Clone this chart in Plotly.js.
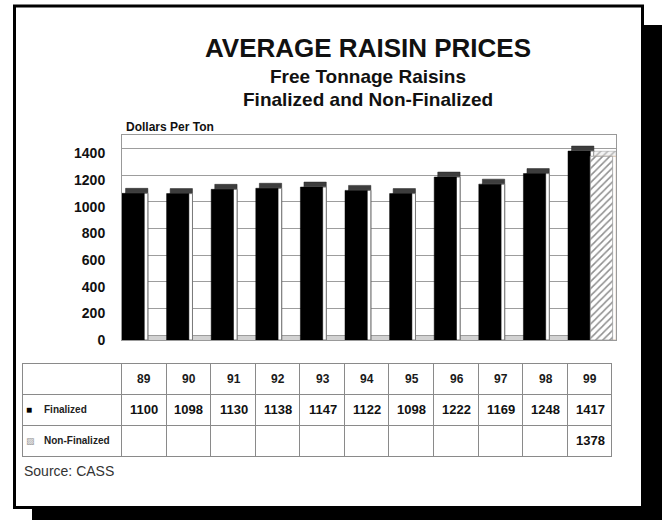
<!DOCTYPE html>
<html>
<head>
<meta charset="utf-8">
<script src="https://cdn.plot.ly/plotly-3.0.1.min.js"></script>
<style>html,body{margin:0;padding:0;background:#fff;}#chart{width:662px;height:520px;}</style>
</head>
<body>
<div id="chart"></div>
<script>
// ---- data ----
const years = ['89','90','91','92','93','94','95','96','97','98','99'];
const finalized = [1100, 1098, 1130, 1138, 1147, 1122, 1098, 1222, 1169, 1248, 1417];
const nonFinalized = [null, null, null, null, null, null, null, null, null, null, 1378];
const yTicks = [0, 200, 400, 600, 800, 1000, 1200, 1400];
const rowLabels = ['Finalized', 'Non-Finalized'];

// ---- style constants ----
const W = 662, H = 520;
const FONT = 'Liberation Sans, Arial, Helvetica, sans-serif';
const DX = 0.08;     // 3D depth in category units
const DY = 37.5;     // 3D depth in value units
const px = v => v / W;
const py = v => 1 - v / H;

const capF = finalized.map(v => v == null ? null : v + DY);
const capN = nonFinalized.map(v => v == null ? null : v + DY);

const common = {type: 'bar', x: years, hoverinfo: 'skip', showlegend: false, width: 0.5};

const traces = [
  // invisible carrier for the back-wall grid axis
  {type: 'scatter', x: years, y: finalized, yaxis: 'y2', mode: 'none', hoverinfo: 'skip', showlegend: false},
  Object.assign({}, common, {y: capF, offset: -0.5 + DX, marker: {color: '#3d3d3d', line: {color: '#222', width: 0.5}}}),
  Object.assign({}, common, {y: finalized, offset: -0.5 + DX, marker: {color: '#ffffff', line: {color: '#7a7a7a', width: 1}}}),
  Object.assign({}, common, {y: capN, offset: DX, marker: {color: '#eeeeee', line: {color: '#999', width: 0.5},
    pattern: {shape: '/', fgcolor: '#b5b5b5', bgcolor: '#f4f4f4', size: 5, solidity: 0.3}}}),
  Object.assign({}, common, {y: nonFinalized, offset: DX, marker: {color: '#ffffff', line: {color: '#d8c2ae', width: 1}}}),
  Object.assign({}, common, {y: finalized, offset: -0.5, marker: {color: '#000000', line: {color: '#000', width: 0.5}}}),
  Object.assign({}, common, {y: nonFinalized, offset: 0, marker: {color: '#ffffff', line: {color: '#9a9a9a', width: 0.8},
    pattern: {shape: '/', fgcolor: '#8f8f8f', bgcolor: '#ffffff', size: 5, solidity: 0.3}}}),
];

// ---- table grid (texts placed as annotations so they sit centred in each row) ----
const blankCol = ['', ''];
traces.push({
  type: 'table',
  domain: {x: [px(22.7), px(612.3)], y: [py(458), py(363)]},
  columnwidth: [99].concat(years.map(() => 44.6)),
  header: {values: [''].concat(years.map(() => '')), height: 31,
           fill: {color: '#ffffff'}, line: {color: '#8a8a8a', width: 1}},
  cells: {values: [blankCol].concat(years.map(() => blankCol)), height: 31,
          fill: {color: '#ffffff'}, line: {color: '#8a8a8a', width: 1}}
});

const ROW_Y = {head: 378.5, fin: 409.5, non: 440.5};
const tableAnn = [];
years.forEach((y, i) => {
  // x given as the category index on the category axis
  tableAnn.push({text: y, x: i, xref: 'x', y: py(ROW_Y.head), yref: 'paper',
    xanchor: 'center', yanchor: 'middle', showarrow: false,
    font: {family: FONT, size: 12, color: '#1a1a1a', weight: 'bold'}});
  if (finalized[i] != null) tableAnn.push({text: String(finalized[i]), x: i, xref: 'x', y: py(ROW_Y.fin), yref: 'paper',
    xanchor: 'center', yanchor: 'middle', showarrow: false,
    font: {family: FONT, size: 13, color: '#111', weight: 'bold'}});
  if (nonFinalized[i] != null) tableAnn.push({text: String(nonFinalized[i]), x: i, xref: 'x', y: py(ROW_Y.non), yref: 'paper',
    xanchor: 'center', yanchor: 'middle', showarrow: false,
    font: {family: FONT, size: 13, color: '#111', weight: 'bold'}});
});
tableAnn.push(
  {text: '\u25A0', x: px(24.5), xref: 'paper', y: py(ROW_Y.fin), yref: 'paper', xanchor: 'left', yanchor: 'middle',
   showarrow: false, font: {family: FONT, size: 10, color: '#000'}},
  {text: rowLabels[0], x: px(41.5), xref: 'paper', y: py(ROW_Y.fin), yref: 'paper', xanchor: 'left', yanchor: 'middle',
   showarrow: false, font: {family: FONT, size: 10, color: '#222', weight: 'bold'}},
  {text: '\u25A8', x: px(24.5), xref: 'paper', y: py(ROW_Y.non), yref: 'paper', xanchor: 'left', yanchor: 'middle',
   showarrow: false, font: {family: 'DejaVu Sans, sans-serif', size: 9, color: '#9a9a9a'}},
  {text: rowLabels[1], x: px(41.5), xref: 'paper', y: py(ROW_Y.non), yref: 'paper', xanchor: 'left', yanchor: 'middle',
   showarrow: false, font: {family: FONT, size: 10, color: '#222', weight: 'bold'}}
);

const layout = {
  width: W, height: H,
  margin: {l: 0, r: 0, t: 0, b: 0},
  paper_bgcolor: '#ffffff',
  plot_bgcolor: 'rgba(0,0,0,0)',
  barmode: 'overlay',
  bargap: 0,
  showlegend: false,
  font: {family: FONT, color: '#111'},
  xaxis: {
    domain: [px(122), px(616)],
    type: 'category',
    range: [-0.5, 10.576],
    showticklabels: false, ticks: '', showgrid: false, zeroline: false,
    showline: true, mirror: true, linecolor: '#999', linewidth: 1, fixedrange: true
  },
  yaxis: {
    domain: [1 - 340 / H, 1 - 135 / H],
    range: [0, 1537.5],
    tickvals: yTicks,
    ticks: '', showgrid: false, zeroline: false,
    showline: true, mirror: true, linecolor: '#999', linewidth: 1,
    ticklabelstandoff: 13,
    tickfont: {family: FONT, size: 14, color: '#111', weight: 'bold'},
    fixedrange: true
  },
  yaxis2: {
    overlaying: 'y',
    range: [-DY, 1500],
    tickvals: yTicks,
    showticklabels: false, ticks: '', zeroline: false, showline: false,
    showgrid: true, gridcolor: '#9d9d9d', gridwidth: 1, fixedrange: true
  },
  shapes: [
    {type: 'rect', xref: 'paper', yref: 'paper', x0: px(32), x1: 1, y0: 0, y1: py(25),
     fillcolor: '#000', line: {width: 0}, layer: 'below'},
    {type: 'rect', xref: 'paper', yref: 'paper', x0: px(14.5), x1: px(642.5), y0: py(507.5), y1: py(6),
     fillcolor: '#fff', line: {color: '#000', width: 3}, layer: 'below'},
    {type: 'rect', xref: 'x domain', yref: 'y2', x0: 0, x1: 1, y0: -DY, y1: 0,
     fillcolor: '#d2d2d2', line: {width: 0}, layer: 'below'}
  ],
  annotations: [
    {text: 'AVERAGE RAISIN PRICES', xref: 'paper', yref: 'paper', x: px(368.5), y: py(48),
     xanchor: 'center', yanchor: 'middle', showarrow: false,
     font: {family: FONT, size: 26, color: '#111', weight: 'bold'}},
    {text: 'Free Tonnage Raisins', xref: 'paper', yref: 'paper', x: px(368), y: py(76.5),
     xanchor: 'center', yanchor: 'middle', showarrow: false,
     font: {family: FONT, size: 19, color: '#111', weight: 'bold'}},
    {text: 'Finalized and Non-Finalized', xref: 'paper', yref: 'paper', x: px(368), y: py(100),
     xanchor: 'center', yanchor: 'middle', showarrow: false,
     font: {family: FONT, size: 19, color: '#111', weight: 'bold'}},
    {text: 'Dollars Per Ton', xref: 'paper', yref: 'paper', x: px(124), y: py(126.7),
     xanchor: 'left', yanchor: 'middle', showarrow: false,
     font: {family: FONT, size: 12, color: '#111', weight: 'bold'}},
    {text: 'Source: CASS', xref: 'paper', yref: 'paper', x: px(21.5), y: py(471),
     xanchor: 'left', yanchor: 'middle', showarrow: false,
     font: {family: FONT, size: 14, color: '#333'}}
  ].concat(tableAnn)
};

Plotly.newPlot('chart', traces, layout, {staticPlot: true, displayModeBar: false});
</script>
</body>
</html>
